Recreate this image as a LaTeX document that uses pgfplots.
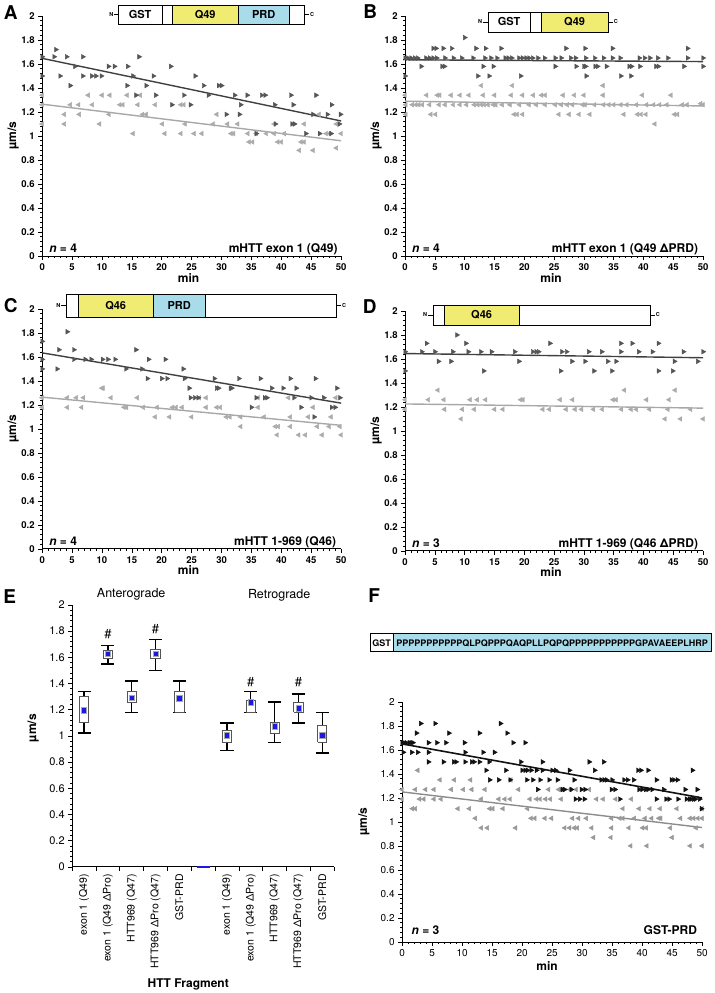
\documentclass[border=0pt]{standalone}
\usepackage{fontspec}
\setmainfont{TeX Gyre Heros}
\usepackage{pgfplots}
\pgfplotsset{compat=1.18}
\definecolor{antc}{HTML}{555555}
\definecolor{retc}{HTML}{ABABAB}
\definecolor{antl}{HTML}{404040}
\definecolor{retl}{HTML}{A8A8A8}
\definecolor{antf}{HTML}{111111}
\definecolor{retf}{HTML}{999999}
\definecolor{retfl}{HTML}{8C8C8C}
\definecolor{qy}{HTML}{F0EC72}
\definecolor{prdb}{HTML}{A8DCEB}
\definecolor{meanb}{HTML}{1A1AE6}
\definecolor{boxc}{HTML}{555555}
\newcommand{\fs}[1]{\fontsize{#1}{#1}\selectfont}
\pgfplotsset{
  base/.style={scale only axis, anchor=south west, axis x line=bottom, axis y line=left,
    axis line style={-, line width=0.9pt, black}, tick align=outside,
    major tick length=4pt, minor tick length=2pt, tick style={black, line width=0.7pt},
    /pgf/number format/assume math mode=true, clip=false, ymin=0, ymax=2,
    ytick={0,0.2,0.4,0.6,0.8,1,1.2,1.4,1.6,1.8,2}, minor y tick num=4},
  panel/.style={base, width=299pt, height=240pt, xmin=0, xmax=50, xtick={0,5,...,50},
    minor x tick num=4, ticklabel style={font=\bfseries\fs{9.5}},
    xlabel={min}, ylabel={µm/s},
    every axis x label/.style={at={(axis description cs:0.49,-0.09)}, anchor=center, font=\bfseries\fs{12}},
    every axis y label/.style={at={(axis description cs:-0.097,0.5)}, rotate=90, anchor=center, font=\bfseries\fs{12}}},
  ant/.style={only marks, mark=triangle*, mark size=2.7pt, mark options={rotate=-90, fill=antc, draw=antc}},
  ret/.style={only marks, mark=triangle*, mark size=2.7pt, mark options={rotate=90, fill=retc, draw=retc}},
  antF/.style={only marks, mark=triangle*, mark size=2.7pt, mark options={rotate=-90, fill=antf, draw=antf}},
  retF/.style={only marks, mark=triangle*, mark size=2.7pt, mark options={rotate=90, fill=retf, draw=retf}},
  bx/.style={fill=white, draw=boxc, line width=0.8pt, mark=none},
}
\begin{document}
\begin{tikzpicture}
\begin{scope}[x=1pt,y=1pt]
\useasboundingbox (0,0) rectangle (713,993);
\end{scope}
% ---------------- Panel A
\begin{axis}[panel, at={(41pt,737pt)}]
\addplot[ret] coordinates {(0,1.34)(0,1.26)(0,1.1)(3.7,1.18)(3.7,1.1)(4.7,1.26)(6.1,1.26)(6.2,1.18)(7.7,1.34)(9.6,1.1)(10,1.34)(11.3,1.34)(8.4,1.26)(11.2,1.18)(13,1.26)(13.5,1.26)(14.2,1.34)(15.2,1.02)(16,1.26)(16.8,1.18)(17.4,1.18)(16.4,1.34)(18.9,1.26)(20.1,1.1)(20.5,1.02)(23.2,1.26)(23.7,1.26)(23.2,1.02)(23.9,1.1)(25.4,1.02)(26.7,1.02)(28.6,1.1)(31,1.1)(32.7,1.1)(29.2,1.18)(31.6,1.02)(32,1.02)(34.4,1.02)(35.8,1.02)(34.6,0.95)(35.2,0.95)(37.5,1.02)(38.8,1.02)(40.5,1.02)(39.4,0.95)(40,0.95)(43.8,1.1)(43,0.88)(43.3,0.95)(43.8,0.95)(45.3,0.88)(46.3,1.18)(47.5,1.02)(48,1.02)(50,1.02)(49.2,1.1)(49.2,0.9)(38.8,1.1)};
\addplot[ant] coordinates {(0,1.66)(0,1.5)(2.3,1.72)(2,1.66)(4.1,1.66)(3,1.5)(4.7,1.42)(5.5,1.58)(6.8,1.66)(6.8,1.5)(8.3,1.5)(9,1.5)(9.9,1.5)(11.1,1.58)(12.1,1.58)(14.3,1.58)(16.2,1.66)(14.2,1.42)(15.2,1.5)(15.7,1.34)(17.4,1.42)(18.6,1.5)(19,1.34)(21.5,1.58)(21.7,1.26)(24.8,1.26)(23.7,1.34)(25.6,1.5)(27,1.42)(27.8,1.34)(29.5,1.42)(30,1.42)(30.8,1.18)(32.2,1.34)(33,1.18)(33.2,1.26)(34.3,1.34)(36.7,1.34)(37.3,1.34)(35.8,1.02)(38.9,1.26)(41.6,1.34)(42,1.26)(41.8,1.1)(42.2,1.1)(39,1.1)(45.8,1.34)(45.3,1.18)(44.1,1.02)(46.4,1.02)(48.3,1.02)(47.7,1.18)(48.4,1.26)(49.9,1.18)(49.7,1.1)};
\addplot[retl, line width=1.4pt] coordinates {(0,1.265)(50,0.96)};
\addplot[antl, line width=1.4pt] coordinates {(0,1.647)(50,1.125)};
\node[anchor=base west, font=\bfseries\fs{12}] at (rel axis cs:0.012,0.013) {\textit{n} = 4};
\node[anchor=base east, font=\bfseries\fs{12}] at (rel axis cs:1,0.013) {mHTT exon 1 (Q49)};
\end{axis}
% ---------------- Panel B
\begin{axis}[panel, width=298pt, at={(404pt,737pt)}]
\addplot[ret] coordinates {(12.8,1.42)(18,1.42)(33.2,1.42)
(0,1.34)(3.6,1.34)(5.4,1.34)(5.8,1.34)(7.7,1.34)(9.2,1.34)(10.7,1.34)(13.1,1.34)(15,1.34)(17.8,1.34)(19.7,1.34)(21.5,1.34)(22.9,1.34)(23.5,1.34)(26.5,1.34)(28.4,1.34)(30,1.34)(33.2,1.34)(39.8,1.34)(44.6,1.34)
(0.1,1.26)(1.2,1.26)(1.8,1.26)(2.3,1.26)(2.9,1.26)(4.1,1.26)(5.7,1.26)(6.7,1.26)(8.1,1.26)(9.2,1.26)(10.3,1.26)(11.6,1.26)(12.2,1.26)(12.8,1.26)(13.3,1.26)(13.9,1.26)(14.8,1.26)(15.2,1.26)(16.3,1.26)(17.6,1.26)(19.2,1.26)(20.8,1.26)(22,1.26)(23.5,1.26)(25.2,1.26)(26.2,1.26)(27.2,1.26)(28.1,1.26)(29.8,1.26)(30.2,1.26)(31.8,1.26)(33.3,1.26)(34.2,1.26)(35,1.26)(36.2,1.26)(37.2,1.26)(38.8,1.26)(40.5,1.26)(41.7,1.26)(42.7,1.26)(43.9,1.26)(46.5,1.26)(47.3,1.26)(49.6,1.27)(50,1.26)
(0.1,1.18)(4.3,1.18)(5.1,1.18)(18.3,1.18)(18.8,1.18)(19.7,1.18)(25.8,1.18)(27.5,1.18)(29.2,1.18)(31,1.18)(36.7,1.18)(39,1.18)(39.6,1.18)(40.4,1.18)(45.2,1.18)(45.7,1.18)(41.9,1.1)};
\addplot[ant] coordinates {(10,1.82)
(4.7,1.73)(5.2,1.73)(6.4,1.73)(7.8,1.73)(11.9,1.73)(13.5,1.73)(16.1,1.73)(27,1.73)(30.2,1.73)(34.8,1.73)(47.4,1.73)
(0,1.65)(0.45,1.65)(1,1.65)(1.6,1.65)(2.1,1.65)(3.5,1.65)(4.1,1.65)(4.7,1.65)(5.3,1.65)(6.7,1.65)(8.1,1.65)(9.5,1.65)(11.4,1.65)(13.4,1.65)(14.4,1.65)(15.4,1.65)(16.8,1.65)(17.3,1.65)(17.9,1.65)(19.1,1.65)(19.7,1.65)(20.3,1.65)(20.8,1.65)(21.4,1.65)(22.3,1.65)(23.4,1.65)(25.2,1.65)(26.2,1.65)(27.8,1.65)(28.6,1.65)(30.3,1.65)(31.8,1.65)(33.3,1.65)(34.8,1.65)(36.1,1.65)(39.3,1.65)(40.2,1.65)(41.1,1.65)(42.4,1.65)(44.1,1.65)(47.4,1.65)(50,1.65)
(2.7,1.58)(6.2,1.58)(6.6,1.58)(13.1,1.58)(14.8,1.58)(25.2,1.58)(28.7,1.58)(30,1.58)(30.3,1.58)(31.9,1.58)(32.3,1.58)(33.8,1.58)(37.6,1.58)(38,1.58)(39.4,1.58)(42.1,1.58)(42.5,1.58)(46.8,1.58)(50,1.58)
(0,1.5)(12.2,1.5)(14.1,1.5)(19.4,1.5)(30.4,1.5)(36.2,1.5)(37.9,1.5)};
\addplot[retl, line width=1.4pt] coordinates {(0,1.29)(50,1.25)};
\addplot[antl, line width=1.4pt] coordinates {(0,1.635)(50,1.62)};
\node[anchor=base west, font=\bfseries\fs{12}] at (rel axis cs:0.012,0.013) {\textit{n} = 4};
\node[anchor=base east, font=\bfseries\fs{12}] at (rel axis cs:0.995,0.013) {mHTT exon 1 (Q49 ΔPRD)};
\end{axis}
% ---------------- Panel C
\begin{axis}[panel, at={(41pt,444pt)}]
\addplot[ret] coordinates {(10,1.34)(10.2,1.34)(0,1.26)(4.2,1.26)(5.7,1.26)(6.9,1.26)(11.5,1.26)(15.9,1.26)(26.3,1.26)(27.4,1.26)(36.1,1.26)(41.2,1.26)(49.1,1.26)(0,1.18)(4.2,1.18)(6.6,1.18)(13.7,1.18)(14.1,1.18)(16.9,1.18)(19.2,1.18)(21.8,1.18)(22.4,1.18)(23.4,1.18)(27.4,1.18)(29.2,1.18)(29.8,1.18)(36.1,1.18)(45.3,1.18)(18.9,1.1)(21.3,1.1)(25,1.1)(30.8,1.1)(31.4,1.1)(33.2,1.1)(37.1,1.1)(41.5,1.1)(44.5,1.1)(48.3,1.1)(33.2,1.02)(39,1.02)(39.5,1.02)(41.5,1.02)(46,1.02)(48,1.02)(49.8,1.02)(39.3,0.95)(42.9,0.95)(44,0.95)(46.8,0.95)(50,0.95)};
\addplot[ant] coordinates {(4.2,1.81)(0,1.73)(2.8,1.66)(5.3,1.66)(15.7,1.66)(0,1.58)(5.3,1.58)(7.2,1.58)(8.2,1.58)(10.1,1.58)(11,1.58)(12.2,1.58)(17.8,1.58)(20.6,1.58)(0,1.5)(2.5,1.5)(14,1.5)(16.7,1.5)(23.6,1.5)(17.6,1.42)(20,1.42)(20.9,1.42)(23.8,1.42)(28.8,1.42)(32.9,1.42)(36.5,1.42)(41.5,1.42)(45.7,1.42)(24.6,1.34)(29.2,1.34)(29.5,1.34)(31.5,1.34)(31.7,1.34)(38.4,1.34)(40.3,1.34)(42.5,1.34)(49.3,1.34)(24.8,1.26)(25.5,1.26)(26.1,1.26)(35.8,1.26)(37.2,1.26)(37.6,1.26)(42.1,1.26)(45,1.26)(47.1,1.26)(49.8,1.26)(35,1.18)(43.3,1.18)(48.4,1.18)(49,1.18)(45.5,1.1)};
\addplot[retl, line width=1.4pt] coordinates {(0,1.265)(50,1.03)};
\addplot[antl, line width=1.4pt] coordinates {(0,1.634)(50,1.215)};
\node[anchor=base west, font=\bfseries\fs{12}] at (rel axis cs:0.012,0.013) {\textit{n} = 4};
\node[anchor=base east, font=\bfseries\fs{12}] at (rel axis cs:0.995,0.013) {mHTT 1-969 (Q46)};
\end{axis}
% ---------------- Panel D
\begin{axis}[panel, width=298pt, at={(404pt,442pt)}]
\addplot[ret] coordinates {(5.5,1.34)(36.8,1.34)(45.3,1.34)
(0,1.26)(3.9,1.26)(6.5,1.26)(10.9,1.26)(12.1,1.26)(13.5,1.26)(19.4,1.26)(19.8,1.26)(26,1.26)(28.1,1.26)(34.9,1.26)(35.4,1.26)(40.5,1.26)(44.3,1.26)
(0,1.18)(6.6,1.18)(9.6,1.18)(11.6,1.18)(15,1.18)(16.4,1.18)(23.1,1.18)(24.2,1.18)(27,1.18)(28.5,1.18)(29.6,1.18)(31.6,1.18)(33.1,1.18)(36.3,1.18)(37.9,1.18)(38.8,1.18)(41,1.18)(44.1,1.18)(47.9,1.18)
(9.4,1.1)(43.6,1.1)(46.2,1.1)(50,1.1)};
\addplot[ant] coordinates {(8.7,1.8)(3.6,1.73)(10.2,1.73)(24.3,1.73)(36.2,1.73)(38.1,1.73)(42.5,1.73)
(0,1.66)(2.8,1.66)(5,1.66)(8,1.66)(10.6,1.66)(12.7,1.66)(14.5,1.66)(18.4,1.66)(21.4,1.66)(22,1.66)(22.4,1.66)(26.3,1.66)(27.1,1.66)(30.8,1.66)(33,1.66)(36.2,1.66)(39.2,1.66)(41.5,1.66)(46.7,1.66)(50,1.66)
(5.6,1.58)(7.7,1.58)(19.1,1.58)(28,1.58)(30.2,1.58)(34,1.58)(35.4,1.58)(45.2,1.58)(49.1,1.58)
(0,1.5)(13.2,1.5)(26.1,1.5)(31.7,1.5)(34.7,1.5)(42.5,1.5)(44.9,1.5)};
\addplot[retl, line width=1.4pt] coordinates {(0,1.225)(50,1.19)};
\addplot[antl, line width=1.4pt] coordinates {(0,1.645)(50,1.61)};
\node[anchor=base west, font=\bfseries\fs{12}] at (rel axis cs:0.012,0.013) {\textit{n} = 3};
\node[anchor=base east, font=\bfseries\fs{12}] at (rel axis cs:0.995,0.013) {mHTT 1-969 (Q46 ΔPRD)};
\end{axis}
% ---------------- Panel E
\begin{axis}[base, at={(71pt,126pt)}, width=262pt, height=262pt,
  xmin=0.5, xmax=11.5, xtick={0.5,1.5,...,11.5}, x tick label as interval,
  xticklabels={exon 1 (Q49), exon 1 (Q49 ΔPro), HTT969 (Q47), HTT969 ΔPro (Q47), GST-PRD, {}, exon 1 (Q49), exon 1 (Q49 ΔPro), HTT969 (Q47), HTT969 ΔPro (Q47), GST-PRD},
  xticklabel style={rotate=90, anchor=east, font=\fs{10.5}},
  yticklabel style={font=\fs{11}},
  xlabel={HTT Fragment}, ylabel={µm/s},
  every axis x label/.style={at={(axis description cs:0.443,-0.447)}, anchor=center, font=\bfseries\fs{12}},
  every axis y label/.style={at={(axis description cs:-0.149,0.53)}, rotate=90, anchor=center, font=\bfseries\fs{12}},
  unbounded coords=jump]
% whiskers: vertical line and caps for each category
\addplot[black, line width=1.4pt, mark=none] coordinates {
(1,1.022)(1,1.34)(nan,nan)(0.725,1.34)(1.275,1.34)(nan,nan)(0.725,1.022)(1.275,1.022)(nan,nan)
(2,1.55)(2,1.69)(nan,nan)(1.725,1.69)(2.275,1.69)(nan,nan)(1.725,1.55)(2.275,1.55)(nan,nan)
(3,1.18)(3,1.42)(nan,nan)(2.725,1.42)(3.275,1.42)(nan,nan)(2.725,1.18)(3.275,1.18)(nan,nan)
(4,1.50)(4,1.734)(nan,nan)(3.725,1.734)(4.275,1.734)(nan,nan)(3.725,1.50)(4.275,1.50)(nan,nan)
(5,1.18)(5,1.42)(nan,nan)(4.725,1.42)(5.275,1.42)(nan,nan)(4.725,1.18)(5.275,1.18)(nan,nan)
(7,0.89)(7,1.10)(nan,nan)(6.725,1.10)(7.275,1.10)(nan,nan)(6.725,0.89)(7.275,0.89)(nan,nan)
(8,1.18)(8,1.34)(nan,nan)(7.725,1.34)(8.275,1.34)(nan,nan)(7.725,1.18)(8.275,1.18)(nan,nan)
(9,0.95)(9,1.26)(nan,nan)(8.725,1.26)(9.275,1.26)(nan,nan)(8.725,0.95)(9.275,0.95)(nan,nan)
(10,1.10)(10,1.32)(nan,nan)(9.725,1.32)(10.275,1.32)(nan,nan)(9.725,1.10)(10.275,1.10)(nan,nan)
(11,0.87)(11,1.18)(nan,nan)(10.725,1.18)(11.275,1.18)(nan,nan)(10.725,0.87)(11.275,0.87)};
% boxes
\addplot[bx] coordinates {(0.805,1.10)(1.195,1.10)(1.195,1.30)(0.805,1.30)(0.805,1.10)};
\addplot[bx] coordinates {(1.805,1.59)(2.195,1.59)(2.195,1.655)(1.805,1.655)(1.805,1.59)};
\addplot[bx] coordinates {(2.805,1.256)(3.195,1.256)(3.195,1.34)(2.805,1.34)(2.805,1.256)};
\addplot[bx] coordinates {(3.805,1.59)(4.195,1.59)(4.195,1.66)(3.805,1.66)(3.805,1.59)};
\addplot[bx] coordinates {(4.805,1.18)(5.195,1.18)(5.195,1.34)(4.805,1.34)(4.805,1.18)};
\addplot[bx] coordinates {(6.805,0.95)(7.195,0.95)(7.195,1.04)(6.805,1.04)(6.805,0.95)};
\addplot[bx] coordinates {(7.805,1.18)(8.195,1.18)(8.195,1.27)(7.805,1.27)(7.805,1.18)};
\addplot[bx] coordinates {(8.805,1.02)(9.195,1.02)(9.195,1.10)(8.805,1.10)(8.805,1.02)};
\addplot[bx] coordinates {(9.805,1.18)(10.195,1.18)(10.195,1.256)(9.805,1.256)(9.805,1.18)};
\addplot[bx] coordinates {(10.805,0.95)(11.195,0.95)(11.195,1.08)(10.805,1.08)(10.805,0.95)};
\addplot[meanb, line width=1.6pt] coordinates {(5.73,0)(6.27,0)};
\addplot[only marks, mark=square*, mark size=2.6pt, mark options={fill=meanb, draw=gray!70, line width=0.6pt}] coordinates {(1,1.195)(2,1.625)(3,1.29)(4,1.625)(5,1.287)(7,1.005)(8,1.256)(9,1.073)(10,1.21)(11,1.005)};
\node[font=\fs{13}] at (axis cs:2,1.78) {\#};
\node[font=\fs{13}] at (axis cs:4,1.815) {\#};
\node[font=\fs{13}] at (axis cs:8,1.41) {\#};
\node[font=\fs{13}] at (axis cs:10,1.41) {\#};
\end{axis}
% ---------------- Panel F
\begin{axis}[base, at={(401pt,51pt)}, width=300pt, height=240pt, xmin=0, xmax=50, xtick={0,5,...,50},
    minor x tick num=4, ticklabel style={font=\fs{10}},
    axis line style={-, line width=0.7pt, black},
    xlabel={min}, ylabel={µm/s},
    every axis x label/.style={at={(axis description cs:0.483,-0.1)}, anchor=center, font=\bfseries\fs{12}},
    every axis y label/.style={at={(axis description cs:-0.127,0.5)}, rotate=90, anchor=center, font=\bfseries\fs{12}}]
\addplot[retF] coordinates {(2.6,1.43)
(6.3,1.35)(8.7,1.35)(11.4,1.35)(18.1,1.35)
(0,1.27)(2.2,1.27)(3.9,1.27)(5.3,1.27)(8.2,1.27)(10.2,1.27)(11.6,1.27)(13.8,1.27)(19.4,1.27)(24.4,1.27)(26.1,1.27)(26.5,1.27)(28,1.27)(29,1.27)(31.2,1.27)
(0,1.19)(2.9,1.19)(3.6,1.19)(5.3,1.19)(6.5,1.19)(13.2,1.19)(16.1,1.19)(17.1,1.19)(18,1.19)(21.3,1.19)(22.4,1.19)(23,1.19)(23.9,1.19)(24.7,1.19)(26.5,1.19)(32.4,1.19)(33.5,1.19)(35.6,1.19)(38.2,1.19)(48.6,1.19)
(1.7,1.11)(2.2,1.11)(9.3,1.11)(11.2,1.11)(14.6,1.11)(15.1,1.11)(16.8,1.11)(20.9,1.11)(36.8,1.11)(39.5,1.11)(41.3,1.11)(43,1.11)(45.8,1.11)(50,1.11)
(12.2,1.03)(21.5,1.03)(22.1,1.03)(23.8,1.03)(24.9,1.03)(28.4,1.03)(29.4,1.03)(30.7,1.03)(34.9,1.03)(36.3,1.03)(36.8,1.03)(38.7,1.03)(40.5,1.03)(41.6,1.03)(42.8,1.03)(43.1,1.03)(46.4,1.03)(48,1.03)(48.6,1.03)(49.3,1.03)(50,1.03)
(13.2,0.95)(14.2,0.95)(18.9,0.95)(27.1,0.95)(27.9,0.95)(28.7,0.95)(29.2,0.95)(31.6,0.95)(34.9,0.95)(37.8,0.95)(40.1,0.95)(40.7,0.95)(44.7,0.95)(49,0.95)
(31.9,0.87)(34.8,0.87)(45,0.87)
(38.1,0.8)(40.8,0.8)(48,0.8)(50,0.8)};
\addplot[antF] coordinates {(3.1,1.82)(5.5,1.82)(16.4,1.82)
(2.4,1.74)(7.8,1.74)(12.9,1.74)(17.5,1.74)
(0,1.66)(0.3,1.66)(0.7,1.66)(1.2,1.66)(1.5,1.66)(1.8,1.66)(4.4,1.66)(5.8,1.66)(7.3,1.66)(10.4,1.66)(18.5,1.66)(20.5,1.66)
(0.2,1.58)(1.6,1.58)(2.6,1.58)(4.4,1.58)(10.5,1.58)(13.5,1.58)(15.4,1.58)
(4.4,1.5)(6.9,1.5)(8.6,1.5)(9,1.5)(10.5,1.5)(11.6,1.5)(12,1.5)(12.9,1.5)(14.5,1.5)(19.8,1.5)(23.4,1.5)(31.2,1.5)(33.6,1.5)
(14,1.43)(17.3,1.43)(20,1.43)(20.5,1.43)(20.9,1.43)(21.5,1.43)(22.4,1.43)(23.4,1.43)(25,1.43)(25.6,1.43)(27.9,1.43)(32.1,1.43)(39.3,1.43)(39.8,1.43)(41,1.43)(48.4,1.43)
(14.6,1.35)(16.1,1.35)(18,1.35)(20.8,1.35)(21.8,1.35)(23,1.35)(24.5,1.35)(25.9,1.35)(28.7,1.35)(33.2,1.35)(33.7,1.35)(34.1,1.35)(35,1.35)(37,1.35)(37.6,1.35)(38.6,1.35)(42.4,1.35)(44.9,1.35)(45.3,1.35)(45.9,1.35)
(22.6,1.27)(26.7,1.27)(27.1,1.27)(28.2,1.27)(29.9,1.27)(30.5,1.27)(34.9,1.27)(35.5,1.27)(39.5,1.27)(40,1.27)(40.6,1.27)(41,1.27)(41.7,1.27)(43.6,1.27)(47.2,1.27)(49.2,1.27)
(28.9,1.19)(29.6,1.19)(30.4,1.19)(36.3,1.19)(42.4,1.19)(44,1.19)(44.5,1.19)(46,1.19)(47.4,1.19)(47.9,1.19)(48.2,1.19)(48.6,1.19)(48.9,1.19)(49.6,1.19)
(49.9,1.11)};
\addplot[retfl, line width=1.4pt] coordinates {(0,1.25)(50,0.953)};
\addplot[antf, line width=1.6pt] coordinates {(0,1.65)(50,1.2)};
\node[anchor=base west, font=\bfseries\fs{12}] at (rel axis cs:0.02,0.03) {\textit{n} = 3};
\node[anchor=base east, font=\bfseries\fs{12}] at (rel axis cs:0.995,0.03) {GST-PRD};
\end{axis}
\begin{scope}[x=1pt,y=1pt]
% ---------------- Panel letters and titles
\begin{scope}[every node/.style={font=\bfseries\fs{19}}]
\node at (9.5,980.5) {A};
\node at (369,981.5) {B};
\node at (9.5,687) {C};
\node at (368.5,686.5) {D};
\node at (8.5,396.5) {E};
\node at (373,397) {F};
\end{scope}
\node[font=\fs{12.5}] at (130,399) {Anterograde};
\node[font=\fs{12.5}] at (278,398) {Retrograde};
% ---------------- Construct diagrams
\begin{scope}[line width=0.8pt]
% A
\fill[qy] (171,969) rectangle (237,988);
\fill[prdb] (237,969) rectangle (288,988);
\draw (117,969) rectangle (303,988);
\draw (161,969)--(161,988) (171,969)--(171,988) (237,969)--(237,988) (288,969)--(288,988);
\draw (113,978.5)--(117,978.5) (303,978.5)--(308,978.5);
\node[font=\bfseries\fs{11}] at (139,978.5) {GST};
\node[font=\bfseries\fs{11}] at (204,978.5) {Q49};
\node[font=\bfseries\fs{11}] at (262.5,978.5) {PRD};
\node[font=\bfseries\fs{5.5}, anchor=east, inner sep=0.5pt] at (113,978.5) {N};
\node[font=\bfseries\fs{5.5}, anchor=west, inner sep=0.5pt] at (308,978.5) {C};
% B
\fill[qy] (540,961) rectangle (607,981);
\draw (487,961) rectangle (607,981);
\draw (529,961)--(529,981) (540,961)--(540,981);
\draw (482,971)--(487,971) (607,971)--(612,971);
\node[font=\bfseries\fs{11}] at (508,971) {GST};
\node[font=\bfseries\fs{11}] at (573.5,971) {Q49};
\node[font=\bfseries\fs{5.5}, anchor=east, inner sep=0.5pt] at (482,971) {N};
\node[font=\bfseries\fs{5.5}, anchor=west, inner sep=0.5pt] at (612,971) {C};
% C
\fill[qy] (77,676) rectangle (152,699);
\fill[prdb] (152,676) rectangle (204,699);
\draw (65,676) rectangle (335,699);
\draw (77,676)--(77,699) (152,676)--(152,699) (204,676)--(204,699);
\draw (60,687.5)--(65,687.5) (335,687.5)--(340,687.5);
\node[font=\bfseries\fs{11}] at (114.5,687.5) {Q46};
\node[font=\bfseries\fs{11}] at (178,687.5) {PRD};
\node[font=\bfseries\fs{5.5}, anchor=east, inner sep=0.5pt] at (60,687.5) {N};
\node[font=\bfseries\fs{5.5}, anchor=west, inner sep=0.5pt] at (340,687.5) {C};
% D
\fill[qy] (443,668) rectangle (518,688);
\draw (432,668) rectangle (649,688);
\draw (443,668)--(443,688) (518,668)--(518,688);
\draw (427,678)--(432,678) (649,678)--(654,678);
\node[font=\bfseries\fs{11}] at (480.5,678) {Q46};
\node[font=\bfseries\fs{5.5}, anchor=east, inner sep=0.5pt] at (427,678) {N};
\node[font=\bfseries\fs{5.5}, anchor=west, inner sep=0.5pt] at (654,678) {C};
% F
\fill[prdb] (392,341) rectangle (710,359);
\draw[line width=1pt] (369,341) rectangle (710,359);
\draw[line width=1pt] (392,341)--(392,359);
\node[font=\bfseries\fs{9}] at (380.5,350) {GST};
\node[font=\bfseries\fs{9}] at (551,350) {PPPPPPPPPPPQLPQPPPQAQPLLPQPQPPPPPPPPPPPGPAVAEEPLHRP};
\end{scope}
\end{scope}
\end{tikzpicture}
\end{document}
